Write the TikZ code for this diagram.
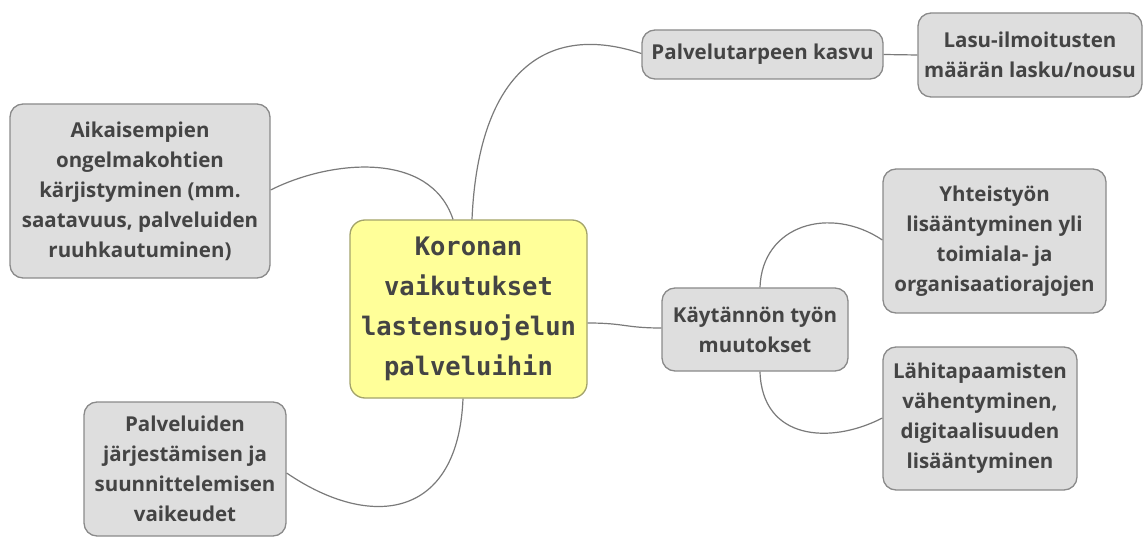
\documentclass[tikz,border=0pt]{standalone}
\usepackage{fontspec}
\setmainfont{Open Sans}[BoldFont={Open Sans Bold}]
\newfontfamily\monof{DejaVu Sans Mono}[BoldFont={DejaVu Sans Mono Bold}]
\definecolor{txt}{HTML}{444444}
\definecolor{boxfill}{HTML}{DEDEDE}
\definecolor{boxline}{HTML}{8A8A8A}
\definecolor{ctrfill}{HTML}{FFFF99}
\definecolor{ctrline}{HTML}{A3A36B}
\definecolor{conn}{HTML}{7A7A7A}
\begin{document}
\begin{tikzpicture}[x=1pt,y=-1pt,
  topic/.style={draw=boxline, fill=boxfill, line width=1.3pt, rounded corners=13pt,
    text=txt, align=center, inner sep=0pt,
    font=\fontsize{20.5}{30}\selectfont\bfseries},
  central/.style={draw=ctrline, fill=ctrfill, line width=1.3pt, rounded corners=15pt,
    text=txt, align=center, inner sep=0pt,
    font=\fontsize{25.5}{40}\selectfont\monof\bfseries},
  link/.style={draw=conn, line width=1.2pt}]
\useasboundingbox (0,0) rectangle (1143,537);
\node[central, minimum width=237pt, minimum height=178pt] (c) at (468.5,309)
  {Koronan\\vaikutukset\\lastensuojelun\\palveluihin};
\node[topic, minimum width=260pt, minimum height=174pt] (aik) at (140,191)
  {Aikaisempien\\ongelmakohtien\\kärjistyminen (mm.\\saatavuus, palveluiden\\ruuhkautuminen)};
\node[topic, minimum width=241pt, minimum height=49pt] (palv) at (762.5,54.5)
  {Palvelutarpeen kasvu};
\node[topic, minimum width=224pt, minimum height=84pt] (lasu) at (1030,55)
  {Lasu-ilmoitusten\\määrän lasku/nousu};
\node[topic, minimum width=186pt, minimum height=83pt] (kay) at (755,329.5)
  {Käytännön työn\\muutokset};
\node[topic, minimum width=223pt, minimum height=144pt] (yht) at (994.5,241)
  {Yhteistyön\\lisääntyminen yli\\toimiala- ja\\organisaatiorajojen};
\node[topic, minimum width=194pt, minimum height=143pt] (lahi) at (980,418.5)
  {Lähitapaamisten\\vähentyminen,\\digitaalisuuden\\lisääntyminen};
\node[topic, minimum width=202pt, minimum height=134pt] (jarj) at (185,469)
  {Palveluiden\\järjestämisen ja\\suunnittelemisen\\vaikeudet};
% connectors
\draw[link] ([xshift=3.5pt]c.north) .. controls (478,80) and (540,20) .. ([yshift=1pt]palv.west);
\draw[link] (palv.east) -- (lasu.west);
\draw[link] ([yshift=1pt]aik.east) .. controls (330,160) and (430,150) .. ([xshift=-15.5pt]c.north);
\draw[link] ([xshift=-5.5pt]c.south) .. controls (458,520) and (370,530) .. ([yshift=-4pt]jarj.east);
\draw[link] ([yshift=-14pt]c.east) .. controls (625,323) and (625,328) .. ([yshift=1.5pt]kay.west);
\draw[link] ([xshift=5pt]kay.north) .. controls (762,225) and (830,205) .. ([yshift=1pt]yht.west);
\draw[link] ([xshift=5pt]kay.south) .. controls (762,440) and (830,445) .. ([yshift=0.5pt]lahi.west);
\end{tikzpicture}
\end{document}
